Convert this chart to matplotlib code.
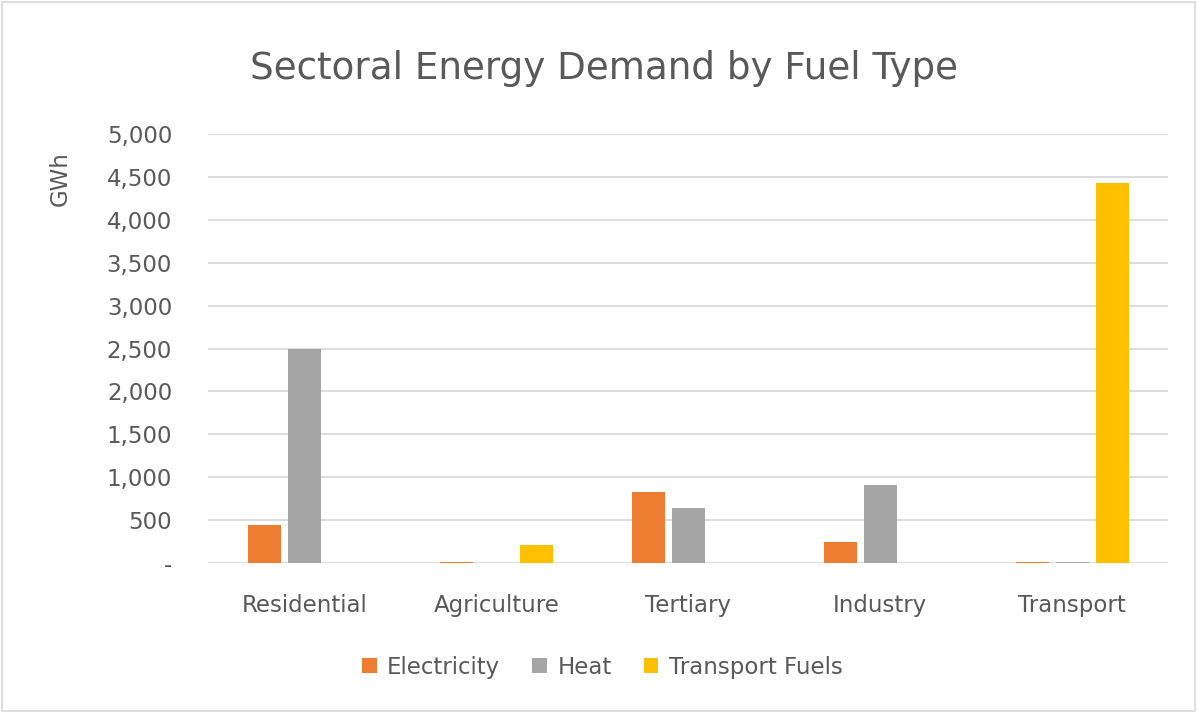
import numpy as np
import matplotlib.pyplot as plt
from matplotlib.patches import Rectangle
from matplotlib.ticker import FuncFormatter

sectors = ['Residential', 'Agriculture', 'Tertiary', 'Industry', 'Transport']
electricity = [443, 10, 827, 245, 12]
heat = [2494, 0, 641, 909, 8]
transport_fuels = [0, 210, 0, 0, 4429]

plt.rcParams['font.family'] = ['DejaVu Sans']
txt = '#595959'

fig = plt.figure(figsize=(11.97, 7.13), dpi=100)
ax = fig.add_axes([0.174, 0.2104, 0.802, 0.6016])

x = np.arange(len(sectors))
w = 0.172
step = 0.208
ax.bar(x - step, electricity, w, color='#ED7D31', label='Electricity', zorder=3)
ax.bar(x, heat, w, color='#A5A5A5', label='Heat', zorder=3)
ax.bar(x + step, transport_fuels, w, color='#FFC000', label='Transport Fuels', zorder=3)

ax.set_xlim(-0.5, 4.5)
ax.set_ylim(0, 5000)
ax.set_yticks(np.arange(0, 5001, 500))
ax.yaxis.set_major_formatter(FuncFormatter(lambda v, p: '-' if v == 0 else f'{int(v):,}'))
ax.set_xticks(x)
ax.set_xticklabels(sectors)
ax.grid(axis='y', color='#DDDDDD', linewidth=1.5, zorder=0)
for s in ax.spines.values():
    s.set_visible(False)
ax.tick_params(axis='both', length=0, labelsize=16.5, colors=txt)
ax.tick_params(axis='x', pad=22)
ax.tick_params(axis='y', pad=26)
ax.set_ylabel('GWh', fontsize=16.5, color=txt)
ax.yaxis.set_label_coords(-0.142, 0.897)

fig.suptitle('Sectoral Energy Demand by Fuel Type', fontsize=26.8, color=txt, x=0.505, y=0.93)
fig.legend(loc='center', bbox_to_anchor=(0.503, 0.064), ncol=3, frameon=False,
           fontsize=16.5, handlelength=0.65, handleheight=0.65, columnspacing=1.4,
           handletextpad=0.45, labelcolor=txt)

fig.patches.append(Rectangle((0.002, 0.003), 0.996, 0.994, transform=fig.transFigure,
                             fill=False, edgecolor='#D9D9D9', linewidth=1.2))

fig.savefig('out.png', dpi=100)
